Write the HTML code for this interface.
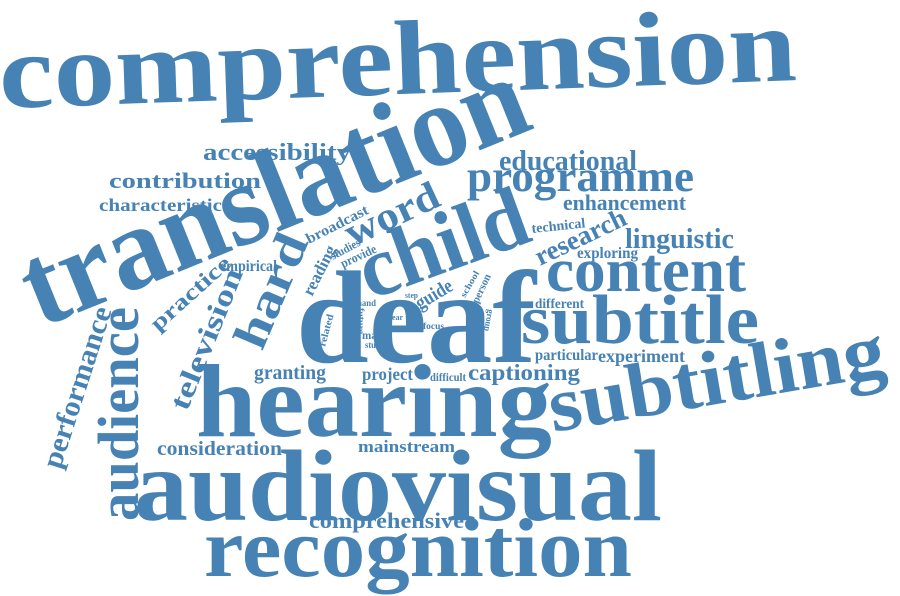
<!DOCTYPE html>
<html><head><meta charset="utf-8">
<style>
html,body{margin:0;padding:0;background:#fff;}
svg{display:block;}
text{font-family:"Liberation Serif",serif;font-weight:bold;fill:#4682b4;}
</style></head>
<body>
<svg width="900" height="596" viewBox="0 0 900 596" xmlns="http://www.w3.org/2000/svg">
<g id="words"></g>
</svg>
<script>
const words = ["comprehension","translation","hearing","audiovisual","recognition","deaf","child","content","subtitle","subtitling","programme","educational","enhancement","technical","research","linguistic","exploring","different","particular","experiment","captioning","consideration","mainstream","comprehensive","granting","project","difficult","accessibility","contribution","characteristic","empirical","practice","television","audience","performance","hard","word","broadcast","reading","studies","provide","guide","step","hand","future","related","year","focus","main","study","school","person","group"];
const fontSizes = [106,118,104,102,84,132,86,62,70,78,44,28,22,14,27,28,16,14,16,18,23,20,17,22,20,18,12,24,22,18,16,22,29,58,29,48,40,15,17,12,13,20,8,9,9,10,8,9,12,9,9,11,9];
// layout: [baselineStartX, baselineStartY, textLength, rotationDeg]
const layout = [
[0,108,798,-2],[40,328,535,-22],[196,436,356,0],[134,520,528,0],[204,576,428,0],
[296,362,240,0],[370,300,175,-20],[546,291,200,0],[521,343,238,0],[553,432,340,-9.7],
[467,191,227,0],[499,170,138,0],[563,210,123,0],[532,233,54,-6],[540,266,98,-25.5],
[625,248,109,0],[577,258,61,0],[535,308,49,0],[535,360,63,0],[598,362,87,0],
[468,380,112,0],[157,455,125,0],[358,452,97,0],[309,528,155,0],[254,379,72,0],
[362,380,51,0],[430,381,36,0],[203,160,148,0],[109,188,152,0],[99,211,123,0],
[220,271,57,0],[158,332,100,-42],[187,412,150,-68],[138,521,214,-90],[60,470,168,-72],
[262,352,120,-67],[352,247,100,-25],[309,244,68,-27],[312,297,54,-63],[333,260,32,-28],
[343,268,38,-25],[420,310,40,-31],[405,298,13,0],[357,306,19,0],[358,308,26,90],
[325,347,33,-75],[388,320,15,0],[423,329,21,0],[362,339,24,0],[365,348,20,0],
[465,298,29,-60],[478,304,31,-65],[488,309,22,100]
];
const g = document.getElementById('words');
const NS = 'http://www.w3.org/2000/svg';
words.forEach((w, i) => {
  const [x, y, len, rot] = layout[i];
  const t = document.createElementNS(NS, 'text');
  t.setAttribute('x', x);
  t.setAttribute('y', y);
  t.setAttribute('font-size', fontSizes[i]);
  t.setAttribute('textLength', len);
  t.setAttribute('lengthAdjust', 'spacingAndGlyphs');
  if (rot) t.setAttribute('transform', 'rotate(' + rot + ' ' + x + ' ' + y + ')');
  
  
  t.textContent = w;
  g.appendChild(t);
});
</script>
</body></html>
